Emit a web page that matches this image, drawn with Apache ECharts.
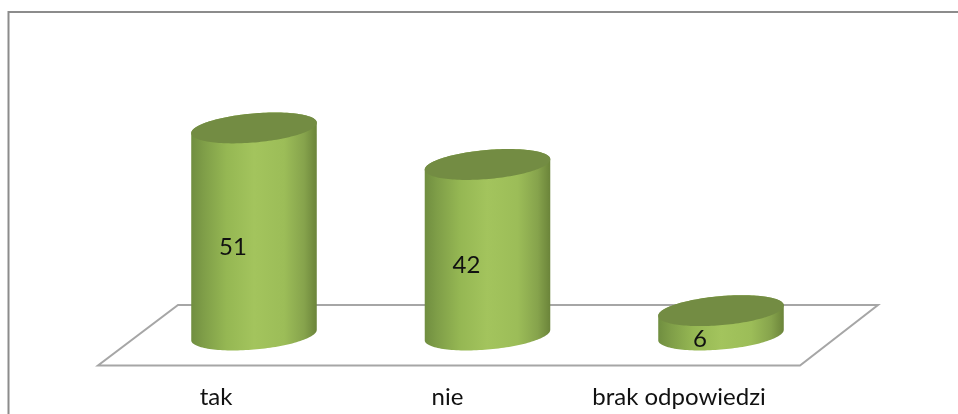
<!DOCTYPE html>
<html>
<head>
<meta charset="utf-8">
<style>html,body{margin:0;padding:0;background:#fff}#c{width:958px;height:414px}</style>
<script src="https://cdn.jsdelivr.net/npm/echarts@6/dist/echarts.min.js"></script>
</head>
<body>
<div id="c"></div>
<script>
const categories = ['tak', 'nie', 'brak odpowiedzi'];
const values = [51, 42, 6];

const chart = echarts.init(document.getElementById('c'), null, {renderer: 'canvas'});
const A = 63, B = 14.5, PHI = -5 * Math.PI / 180;
const FONT = 'Lato';

function pt(cx, cy, t) {
  const c = Math.cos(t), s = Math.sin(t);
  return [cx + A * c * Math.cos(PHI) - B * s * Math.sin(PHI),
          cy + A * c * Math.sin(PHI) + B * s * Math.cos(PHI)];
}
function renderCyl(params, api) {
  const idx = api.value(0), v = api.value(1);
  const top = api.coord([idx, v]), base = api.coord([idx, 0]);
  const cx = base[0], N = 72;
  const t0 = Math.atan(-(B / A) * Math.tan(PHI));
  const body = [];
  for (let i = 0; i <= N; i++) body.push(pt(cx, base[1], t0 + Math.PI * i / N));
  for (let i = 0; i <= N; i++) body.push(pt(cx, top[1], t0 + Math.PI + Math.PI * i / N));
  const cap = [];
  for (let i = 0; i < N * 2; i++) cap.push(pt(cx, top[1], Math.PI * i / N));
  const grad = new echarts.graphic.LinearGradient(0, 0, 1, 0, [
    {offset: 0, color: '#708e40'},
    {offset: 0.1, color: '#7f9e48'},
    {offset: 0.28, color: '#95b753'},
    {offset: 0.5, color: '#a3c45d'},
    {offset: 0.74, color: '#9cbd58'},
    {offset: 0.9, color: '#86a34c'},
    {offset: 1, color: '#6b843a'}
  ]);
  return {
    type: 'group',
    children: [
      {type: 'polygon', shape: {points: body}, style: {fill: grad}},
      {type: 'polygon', shape: {points: cap}, style: {fill: '#738c43'}},
      {type: 'text', style: {
        text: String(v), x: cx - 21, y: (top[1] + base[1]) / 2 + 16,
        align: 'center', verticalAlign: 'middle',
        font: '24px ' + FONT, fill: '#111'
      }, z2: 10}
    ]
  };
}

chart.setOption({
  animation: false,
  backgroundColor: '#fff',
  grid: [
    {left: 137.25, width: 700.5, top: 91.4, bottom: 79},
    {left: 100.25, width: 694.5, top: 91.4, bottom: 79}
  ],
  xAxis: [
    {type: 'category', gridIndex: 0, data: categories,
     axisLine: {show: false}, axisTick: {show: false}, axisLabel: {show: false}},
    {type: 'category', gridIndex: 1, data: categories,
     axisLine: {show: false}, axisTick: {show: false},
     axisLabel: {interval: 0, margin: 50, color: '#111', fontFamily: FONT, fontSize: 24}}
  ],
  yAxis: [
    {type: 'value', gridIndex: 0, min: 0, max: 60, show: false},
    {type: 'value', gridIndex: 1, min: 0, max: 60, show: false}
  ],
  graphic: [
    {type: 'polyline', z: 0, silent: true,
     shape: {points: [[8.5, 414], [8.5, 12], [958, 12]]},
     style: {stroke: '#8c8c8c', lineWidth: 2, fill: null}},
    {type: 'polygon', z: 0, silent: true,
     shape: {points: [[178, 305], [878, 305], [800, 365.5], [98, 365.5]]},
     style: {stroke: '#a6a6a6', lineWidth: 2, fill: '#fff'}}
  ],
  series: [{
    type: 'custom',
    coordinateSystem: 'cartesian2d',
    xAxisIndex: 0,
    yAxisIndex: 0,
    renderItem: renderCyl,
    encode: {x: 0, y: 1},
    data: values.map((v, i) => [i, v]),
    z: 5
  }]
});
</script>
</body>
</html>
